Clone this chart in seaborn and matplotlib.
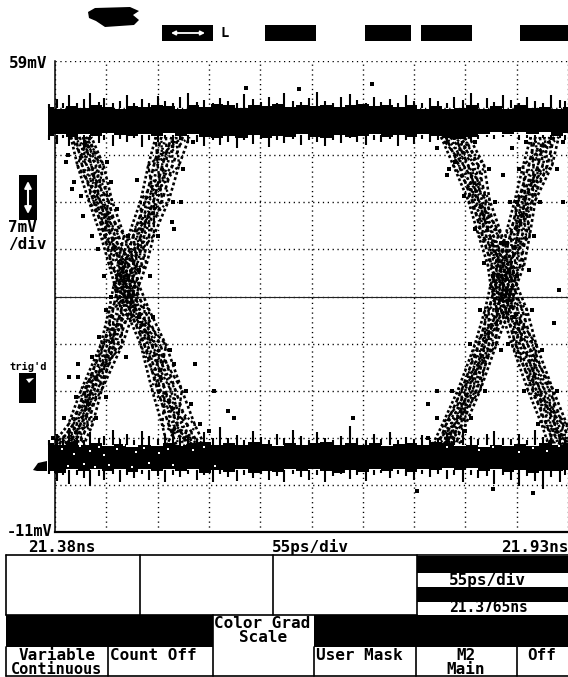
# eye diagram from a sampling scope screen
import matplotlib
matplotlib.use("Agg")
import matplotlib.pyplot as plt
import matplotlib.patches as mp
import seaborn as sns

# time is in ps after 21.38 ns, voltage in mV
edge_mv = [47.7, 43.5, 38.3, 33.1, 28.7, 25.7, 22.0, 16.8, 10.1, 4.9, 2.0]

fall_left = [
    [17, 24, 36, 49, 58, 64, 76, 92, 104, 115, 120],
    [22, 29, 41, 53, 61, 70, 80, 96, 110, 122, 130],
    [26, 34, 44, 55, 67, 72, 84, 99, 113, 127, 138],
    [30, 39, 48, 60, 70, 76, 87, 104, 118, 131, 142],
    [33, 44, 52, 64, 74, 81, 91, 108, 124, 137, 148],
    [36, 48, 57, 68, 79, 85, 96, 113, 129, 142, 154],
    [39, 52, 61, 74, 85, 90, 101, 119, 136, 150, 160],
]
rise_left = [
    [108, 100, 92, 79, 71, 63, 58, 49, 28, 14, -3],
    [114, 106, 97, 84, 75, 68, 62, 52, 32, 19, 4],
    [119, 110, 101, 88, 79, 72, 67, 56, 35, 23, 10],
    [125, 115, 106, 92, 84, 76, 71, 60, 39, 27, 15],
    [130, 120, 110, 96, 88, 81, 75, 63, 42, 31, 20],
    [137, 126, 115, 101, 93, 86, 80, 67, 46, 35, 26],
    [144, 133, 122, 106, 98, 90, 85, 72, 50, 40, 31],
]
fall_right = [
    [414, 427, 443, 454, 464, 467, 478, 490, 507, 522, 529],
    [419, 433, 447, 458, 468, 472, 483, 494, 512, 527, 535],
    [424, 438, 450, 462, 472, 477, 487, 498, 516, 531, 540],
    [429, 443, 454, 466, 477, 481, 492, 502, 520, 536, 544],
    [434, 449, 458, 470, 481, 486, 496, 507, 525, 540, 549],
    [439, 454, 462, 475, 486, 491, 501, 512, 530, 545, 553],
    [444, 460, 466, 479, 490, 495, 506, 516, 534, 549, 556],
]
rise_right = [
    [510, 502, 493, 483, 475, 467, 461, 450, 432, 415, 405],
    [515, 508, 497, 488, 480, 472, 465, 454, 436, 419, 411],
    [520, 513, 501, 492, 484, 476, 470, 458, 440, 424, 416],
    [525, 518, 504, 496, 489, 481, 474, 461, 444, 428, 420],
    [530, 523, 508, 501, 494, 486, 479, 465, 448, 432, 425],
    [535, 528, 512, 505, 499, 491, 483, 469, 452, 436, 430],
    [540, 533, 515, 509, 503, 495, 487, 473, 456, 440, 435],
]

# top and bottom rails, upper and lower edge of the solid part
rail_ps = [-8, 5, 18, 31, 44, 57, 70, 83, 96, 109, 122, 135, 148, 161, 174,
           187, 200, 213, 226, 239, 252, 265, 278, 291, 304, 317, 330, 343,
           356, 369, 382, 395, 408, 421, 434, 447, 460, 473, 486, 499, 512,
           525, 538, 551]
top_hi = [52.1, 51.8, 52.3, 52.0, 52.4, 52.2, 51.8, 52.3, 52.1, 52.5, 52.3,
          51.9, 52.4, 52.2, 52.6, 52.4, 52.0, 52.5, 52.3, 52.6, 52.1, 52.4,
          52.3, 52.5, 52.2, 52.4, 52.6, 52.3, 52.4, 52.1, 52.4, 51.9, 52.3,
          51.8, 52.0, 52.4, 51.8, 52.3, 51.9, 52.4, 52.0, 52.2, 51.8, 52.1]
top_lo = [47.8, 48.1, 47.7, 48.2, 47.9, 48.3, 48.0, 47.8, 48.2, 47.9, 48.3,
          47.8, 48.1, 47.7, 47.5, 47.8, 47.6, 48.0, 47.6, 47.9, 47.7, 48.1,
          47.7, 47.6, 48.0, 47.7, 47.9, 48.1, 47.7, 48.0, 47.7, 48.1, 47.8,
          47.6, 47.4, 47.7, 48.2, 48.4, 48.1, 48.4, 48.2, 48.4, 47.9, 48.3]
bot_hi = [2.3, 2.0, 2.4, 1.9, 2.2, 1.8, 2.1, 1.7, 2.0, 1.8, 2.2, 1.9, 2.3,
          2.4, 2.0, 2.3, 1.9, 2.4, 2.1, 1.8, 2.3, 2.0, 2.2, 2.4, 2.0, 2.3,
          1.9, 2.2, 1.8, 2.1, 2.3, 2.0, 2.4, 2.2, 1.8, 2.0, 1.7, 2.0, 1.8,
          2.1, 1.8, 2.2, 1.9, 2.3]
bot_lo = [-1.9, -2.2, -1.6, -2.0, -1.6, -1.9, -1.7, -2.1, -1.6, -1.9, -1.6,
          -2.0, -1.7, -2.2, -1.8, -2.1, -1.6, -2.2, -1.9, -2.1, -1.7, -2.0,
          -1.7, -1.9, -2.2, -1.8, -2.1, -1.6, -2.0, -1.7, -2.1, -1.6, -1.8,
          -1.5, -1.8, -1.5, -2.0, -1.7, -2.1, -1.8, -2.2, -1.9, -2.0, -1.8]

# noise just outside the solid part of the rails, one time list for all four
fringe_ps = [-6, 2, 9, 15, 24, 31, 38, 47, 53, 62, 70, 77, 85, 93, 101, 110,
             118, 127, 134, 143, 152, 160, 169, 177, 186, 195, 203, 212, 221,
             229, 238, 246, 255, 264, 272, 281, 290, 298, 307, 316, 324, 333,
             342, 350, 359, 368, 376, 385, 394, 402, 411, 420, 428, 437, 446,
             454, 463, 471, 480, 489, 497, 506, 515, 523, 532, 541, 547]
fringe_top_up = [52.6, 53.3, 52.8, 53.9, 52.7, 53.4, 54.2, 52.9, 53.5, 52.7,
                 53.1, 54.0, 52.8, 53.3, 52.7, 53.8, 53.0, 52.7, 53.6, 54.3,
                 52.9, 53.2, 52.8, 53.5, 53.0, 52.8, 54.1, 53.3, 52.9, 53.6,
                 52.8, 54.2, 53.1, 52.9, 53.5, 54.4, 53.0, 52.8, 53.7, 54.1,
                 53.2, 52.8, 53.6, 52.9, 53.3, 52.8, 53.9, 53.1, 52.8, 53.5,
                 53.0, 52.8, 53.7, 53.2, 54.2, 52.8, 53.5, 52.9, 54.0, 53.2,
                 52.8, 53.6, 53.0, 52.8, 53.9, 53.2, 53.0]
fringe_top_dn = [47.3, 46.7, 47.6, 46.3, 47.2, 46.0, 47.5, 46.8, 47.2, 46.4,
                 47.4, 46.9, 47.6, 46.2, 47.3, 47.0, 47.5, 46.6, 47.2, 46.8,
                 47.0, 46.3, 47.3, 46.5, 47.0, 46.0, 47.2, 46.7, 47.4, 46.2,
                 47.2, 46.8, 47.4, 46.5, 47.3, 47.0, 46.4, 47.3, 46.8, 47.5,
                 47.0, 46.5, 47.3, 46.9, 47.4, 46.3, 47.2, 46.7, 47.4, 47.0,
                 47.3, 46.8, 47.2, 47.5, 47.1, 47.4, 47.7, 47.4, 47.7, 47.9,
                 47.2, 47.6, 47.0, 47.5, 47.2, 47.6, 47.3]
fringe_bot_up = [2.6, 3.6, 2.9, 4.4, 3.1, 2.7, 3.8, 2.9, 3.3, 4.1, 2.8, 3.5,
                 2.7, 4.0, 3.2, 2.8, 3.6, 4.3, 2.9, 3.2, 2.6, 3.8, 3.0, 4.6,
                 2.9, 3.4, 2.7, 4.0, 3.1, 2.7, 3.6, 2.9, 4.2, 3.2, 2.7, 3.8,
                 3.0, 2.7, 3.3, 4.8, 3.0, 2.7, 3.5, 2.8, 3.9, 2.7, 3.1, 2.8,
                 3.4, 2.7, 3.0, 3.7, 3.1, 4.3, 3.3, 2.8, 3.6, 4.0, 3.0, 2.8,
                 3.5, 2.7, 4.1, 3.1, 2.9, 3.4, 2.8]
fringe_bot_dn = [-2.4, -3.4, -2.6, -3.8, -2.5, -3.0, -4.1, -2.7, -3.2, -2.4,
                 -3.6, -2.6, -3.0, -2.4, -3.3, -2.7, -3.6, -2.5, -2.9, -2.4,
                 -3.2, -2.6, -3.5, -2.4, -2.9, -3.4, -2.5, -3.0, -2.4, -3.2,
                 -2.7, -3.6, -2.4, -2.9, -3.2, -2.5, -3.5, -2.7, -2.4, -3.1,
                 -2.5, -3.4, -2.6, -2.3, -3.0, -2.4, -2.7, -3.3, -2.4, -2.8,
                 -2.4, -3.1, -2.6, -3.6, -2.5, -3.0, -2.7, -3.8, -2.6, -3.2,
                 -4.2, -2.7, -3.4, -4.6, -2.8, -3.6, -2.6]

# loose samples away from the dense bands
stray_ps = [88, 125, 128, 135, 12, 18, 30, 25, 15, 150, 170, 185, 429, 420,
            545, 540, 535, 410, 400, 480, 490, 495, 205, 262, 340, 192, 320,
            388, 470, 512,
            14, 20, 28, 40, 46, 52, 60, 56, 60, 66, 78, 90, 105, 123, 128,
            140, 146, 155, 165,
            -2, 10, 22, 25, 40, 47, 55, 35, 44, 55, 76, 90, 102, 110, 126,
            137, 148,
            410, 422, 438, 450, 460, 474, 486, 503, 518, 450, 465, 472, 485,
            495, 511, 522, 538,
            400, 410, 426, 445, 456, 470, 480, 488, 497, 505, 440, 446, 461,
            478, 492, 508, 514, 520, 538, 545]
stray_mv = [41.3, 35.0, 34.0, 38.0, 44.0, 40.0, 36.0, 14.0, 12.0, 14.0, 10.0,
            7.0, 44.0, 42.0, 38.0, 25.0, 20.0, 10.0, 8.0, 42.0, 46.0, 38.0,
            55.0, 54.8, 55.6, 5.9, 6.0, -4.9, -4.6, -5.2,
            45, 41, 39, 33, 31, 27, 24, 44, 41, 37, 33, 28, 21, 16, 14, 10,
            8, 5, 4,
            3, 6, 9, 12, 15, 18, 22, 8, 6, 9, 15, 21, 27, 33, 38, 43, 47,
            46, 43, 39, 34, 29, 22, 17, 10, 5, 47, 43, 38, 32, 27, 22, 16, 10,
            3, 6, 10, 17, 22, 27, 32, 38, 43, 47, 4, 6, 10, 16, 21, 28, 33,
            38, 43, 47]

# small white gaps in the bottom rail near the left edge
gap_ps = [8, 20, 27, 38, 47, 53, 66, 74, 87, 95, 104, 112, 121, 136, 148, 160,
          14, 31, 43, 58, 83, 101, 127, 172, 420, 455, 470, 498, 512, 527, 540]
gap_mv = [1.4, 0.6, 1.8, 1.0, 1.7, 0.4, 1.3, 1.9, 0.9, 1.5, 1.9, 0.8, 1.4,
          1.9, 1.2, 1.7, -1.2, -0.9, -1.4, -1.1, -1.3, -0.7, -1.0, -1.2, 1.6,
          1.2, 1.7, 0.9, 1.5, 1.0, 1.8]

x_ticks = [0, 55, 110, 165, 220, 275, 330, 385, 440, 495, 550]
y_ticks = [-11, -4, 3, 10, 17, 24, 31, 38, 45, 52, 59]

sns.set_theme(style="white")
plt.rcParams["font.family"] = ["DejaVu Sans Mono", "DejaVu Sans"]

fig = plt.figure(figsize=(5.68, 6.77), dpi=100, facecolor="white")
ax = fig.add_axes([55 / 568, 1 - 532 / 677, 513 / 568, 471 / 677])
ax.set_xlim(0, 550)
ax.set_ylim(-11, 59)
ax.set_xticks(x_ticks)
ax.set_yticks(y_ticks)
ax.set_xticklabels([])
ax.set_yticklabels([])
ax.tick_params(length=0)
ax.grid(True, color="black", linewidth=1.0, linestyle=(0, (0.9, 2.6)))
ax.set_axisbelow(True)
sns.despine(ax=ax, top=True, right=True)
ax.spines["left"].set_color("black")
ax.spines["left"].set_linewidth(1.1)
ax.spines["bottom"].set_color("black")
ax.spines["bottom"].set_linewidth(1.6)
ax.axhline(24, color="#222222", linewidth=0.8, zorder=1)

# the four edges, broken strokes give the speckled look
dashes = [(0, (1.0, 0.9)), (0.5, (1.6, 1.0)), (0, (0.8, 1.3)), (1, (2.0, 1.1)),
          (0.3, (0.9, 1.0)), (0, (1.4, 1.4)), (0.7, (1.1, 1.0))]
weave = [0, 2, 5, 1, 4, 0, 3, 6, 1, 5, 2]
for group in [fall_left, rise_left, fall_right, rise_right]:
    for i, trace in enumerate(group):
        sns.lineplot(x=trace, y=edge_mv, ax=ax, color="black", linewidth=1.9,
                     linestyle=dashes[i], sort=False, estimator=None,
                     legend=False, zorder=2)
        # same readings joined across the band, this makes the cross hatching
        crossed = [group[(i + w) % 7][j] for j, w in enumerate(weave)]
        sns.lineplot(x=crossed, y=edge_mv, ax=ax, color="black", linewidth=1.7,
                     linestyle=dashes[(i + 3) % 7], sort=False, estimator=None,
                     legend=False, zorder=2)

# rails
ax.fill_between(rail_ps, top_lo, top_hi, color="black", step="mid", lw=0,
                zorder=3, clip_on=False)
ax.fill_between(rail_ps, bot_lo, bot_hi, color="black", step="mid", lw=0,
                zorder=3, clip_on=False)
# hairy rail edges, each noise sample is a short spike off the solid part
for fringe, base in [(fringe_top_up, 52), (fringe_top_dn, 48),
                     (fringe_bot_up, 2), (fringe_bot_dn, -1.8)]:
    ax.vlines(fringe_ps, base, fringe, color="black", linewidth=1.5, zorder=3,
              clip_on=False)
sns.scatterplot(x=stray_ps, y=stray_mv, ax=ax, color="black", marker="s", s=5,
                linewidth=0, zorder=4, legend=False, clip_on=False)
sns.scatterplot(x=gap_ps, y=gap_mv, ax=ax, color="white", marker="s", s=4,
                linewidth=0, zorder=5, legend=False)

# screen furniture, drawn in pixel coordinates on a full figure overlay
ov = fig.add_axes([0, 0, 1, 1], facecolor="none")
ov.set_xlim(0, 568)
ov.set_ylim(677, 0)
ov.axis("off")


def box(x0, y0, x1, y1, fc="black", ec="none", lw=0):
    ov.add_patch(mp.Rectangle((x0, y0), x1 - x0, y1 - y0, fc=fc, ec=ec, lw=lw))


def txt(x, y, s, ha="left", size=11.5):
    ov.text(x, y, s, ha=ha, va="center", fontsize=size, color="black",
            fontweight="bold")


# top strip
ov.add_patch(mp.Polygon([(88, 12), (95, 8), (130, 7), (139, 11), (133, 15),
                         (139, 20), (134, 25), (105, 27), (96, 21), (89, 18)],
                        fc="black", ec="none"))
for x0, x1 in [(162, 213), (265, 316), (365, 411), (421, 472), (520, 568)]:
    box(x0, 25, x1, 41)
ov.annotate("", xy=(171, 33), xytext=(205, 33),
            arrowprops=dict(arrowstyle="<|-|>", color="white", lw=1.3,
                            mutation_scale=6, shrinkA=0, shrinkB=0))
txt(220, 33, "L", size=10)

# left side labels
txt(9, 64, "59mV")
box(19, 175, 37, 220)
ov.annotate("", xy=(28, 181), xytext=(28, 214),
            arrowprops=dict(arrowstyle="<|-|>", color="white", lw=1.5,
                            mutation_scale=10, shrinkA=0, shrinkB=0))
txt(8, 228, "7mV")
txt(8, 244, "/div")
txt(9, 367, "trig'd", size=7.5)
box(19, 373, 36, 403)
ov.add_patch(mp.Polygon([(26, 379), (34, 378), (29, 383)], fc="white", ec="none"))
ov.add_patch(mp.Polygon([(33, 470), (38, 463), (47, 461), (47, 471), (37, 471)],
                        fc="black", ec="none"))
txt(7, 532, "-11mV", size=11)

# time labels
txt(28, 547, "21.38ns")
txt(272, 547, "55ps/div")
txt(568, 547, "21.93ns", ha="right")

# softkey panel
ov.plot([6, 568], [555, 555], color="black", lw=1.2)
for x in [6, 140, 273, 417]:
    ov.plot([x, x], [555, 615], color="black", lw=1.2)
ov.plot([6, 417], [615, 615], color="black", lw=1.2)
box(417, 556, 568, 573)
box(417, 587, 568, 602)
txt(449, 580, "55ps/div")
txt(449, 608, "21.3765ns", size=10.5)
box(6, 615, 213, 647)
box(314, 615, 568, 647)
ov.plot([6, 568], [676, 676], color="black", lw=1.2)
for x, y0 in [(6, 647), (108, 647), (213, 615), (314, 647), (416, 647), (517, 647)]:
    ov.plot([x, x], [y0, 676], color="black", lw=1.2)
txt(214, 623, "Color Grad")
txt(263, 637, "Scale", ha="center")
txt(57, 655, "Variable", ha="center")
txt(57, 669, "Continuous", ha="center", size=11)
txt(110, 655, "Count Off")
txt(316, 655, "User Mask")
txt(466, 655, "M2", ha="center")
txt(466, 669, "Main", ha="center")
txt(542, 655, "Off", ha="center")

fig.savefig("out.png", dpi=100)
